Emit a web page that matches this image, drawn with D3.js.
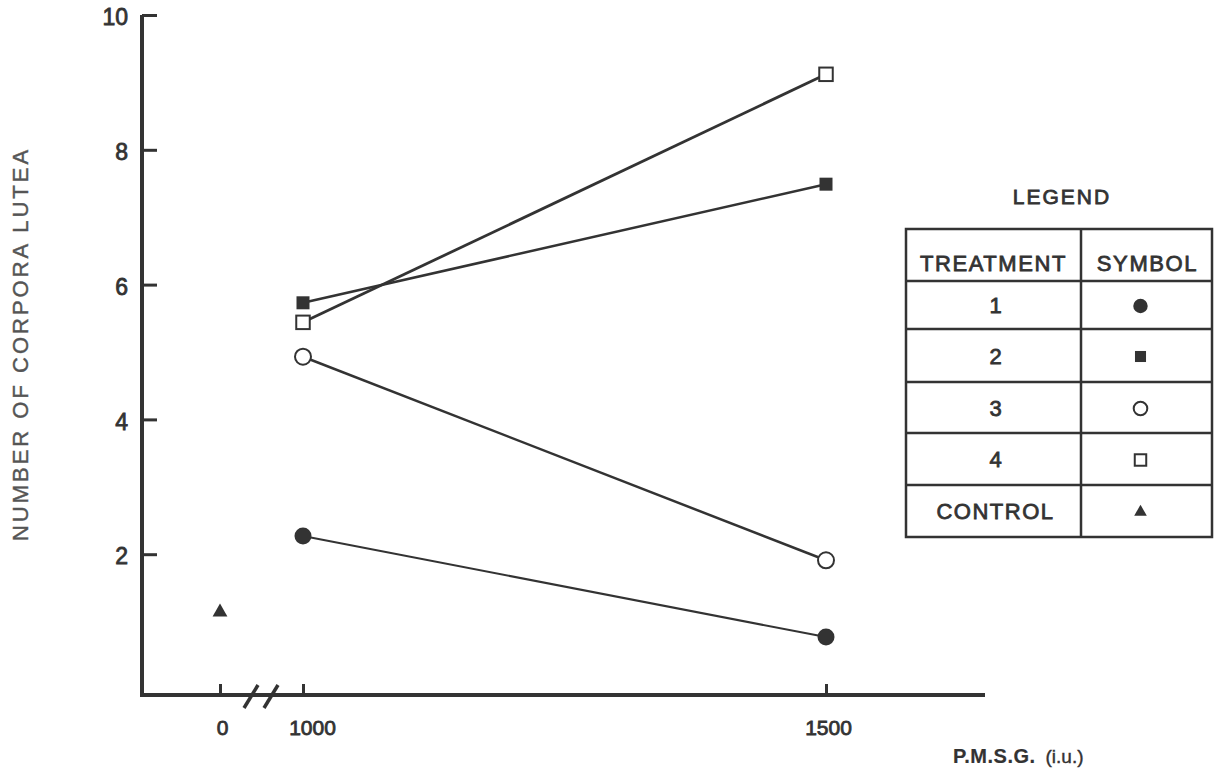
<!DOCTYPE html>
<html>
<head>
<meta charset="utf-8">
<script src="https://cdn.jsdelivr.net/npm/d3@7"></script>
<style>
  html, body { margin: 0; padding: 0; background: #fff; }
  svg { display: block; font-family: "Liberation Sans", Arial, Helvetica, sans-serif; }
</style>
</head>
<body>
<svg id="chart" width="1225" height="773"></svg>
<script>
// Corpora lutea counts by P.M.S.G. dose, one series per treatment
const doses = [1000, 1500];
const treatment1 = [2.27, 0.77];
const treatment2 = [5.73, 7.49];
const treatment3 = [4.93, 1.91];
const treatment4 = [5.44, 9.12];
const controlDose = [0];
const controlValue = [1.14];

const xTickValues = [0, 1000, 1500];
const yTickValues = [2, 4, 6, 8, 10];

const legendRows = ["1", "2", "3", "4", "CONTROL"];
const legendSymbols = ["circleFilled", "squareFilled", "circleOpen", "squareOpen", "triangle"];

const ink = "#333";
const svg = d3.select("#chart");

// slightly heavier type than a plain regular weight
function medium(sel, color, w = 0.8) {
  sel.attr("fill", color).attr("stroke", color).attr("stroke-width", w);
  return sel;
}

// Broken x axis: 0 sits before the break, 1000–1500 is linear after it
const x = d3.scaleLinear().domain([0, 1000, 1500]).range([220, 303, 826]);
const y = d3.scaleLinear().domain([0, 10]).range([689, 15]);

const axisX0 = 142, axisX1 = 985, axisY = 695;

// axis lines
svg.append("line").attr("x1", axisX0).attr("x2", axisX0).attr("y1", y(10)).attr("y2", axisY + 2)
  .attr("stroke", ink).attr("stroke-width", 4);
svg.append("line").attr("x1", axisX0 - 2).attr("x2", axisX1).attr("y1", axisY).attr("y2", axisY)
  .attr("stroke", ink).attr("stroke-width", 4);

// y ticks point inward (right)
const yAxis = d3.axisLeft(y).tickValues(yTickValues).tickSizeInner(-15).tickSizeOuter(0).tickPadding(14);
const gy = svg.append("g").attr("transform", `translate(${axisX0},0)`).call(yAxis);
gy.select(".domain").remove();
gy.selectAll(".tick line").attr("stroke", ink).attr("stroke-width", 3);
medium(gy.selectAll(".tick text"), ink).attr("font-size", 23).attr("dy", "0.42em");

// x ticks point inward (up)
const xAxis = d3.axisBottom(x).tickValues(xTickValues).tickFormat(d3.format("d"))
  .tickSizeInner(-11).tickSizeOuter(0).tickPadding(25);
const gx = svg.append("g").attr("transform", `translate(0,${axisY})`).call(xAxis);
gx.select(".domain").remove();
gx.selectAll(".tick line").attr("stroke", ink).attr("stroke-width", 3);
medium(gx.selectAll(".tick text"), ink).attr("font-size", 21)
  .attr("dx", d => d === 1000 ? 9 : 2);

// axis break marks
const breakX = [251, 271];
breakX.forEach(bx => {
  svg.append("line").attr("x1", bx - 7).attr("y1", axisY + 13).attr("x2", bx + 7).attr("y2", axisY - 10)
    .attr("stroke", ink).attr("stroke-width", 3.5);
});

// symbol drawing helper
function drawSymbol(g, kind, cx, cy, scale = 1) {
  if (kind === "circleFilled") {
    g.append("circle").attr("cx", cx).attr("cy", cy).attr("r", 8.5 * scale).attr("fill", ink);
  } else if (kind === "circleOpen") {
    g.append("circle").attr("cx", cx).attr("cy", cy).attr("r", 8 * scale)
      .attr("fill", "#fff").attr("stroke", ink).attr("stroke-width", 2);
  } else if (kind === "squareFilled") {
    const s = 13 * scale;
    g.append("rect").attr("x", cx - s / 2).attr("y", cy - s / 2).attr("width", s).attr("height", s).attr("fill", ink);
  } else if (kind === "squareOpen") {
    const s = 13.5 * scale;
    g.append("rect").attr("x", cx - s / 2).attr("y", cy - s / 2).attr("width", s).attr("height", s)
      .attr("fill", "#fff").attr("stroke", ink).attr("stroke-width", 2);
  } else if (kind === "triangle") {
    g.append("path").attr("d", d3.symbol(d3.symbolTriangle, 95 * scale * scale)())
      .attr("transform", `translate(${cx},${cy})`).attr("fill", ink);
  }
}

const series = [
  { values: treatment1, kind: "circleFilled", width: 2 },
  { values: treatment2, kind: "squareFilled", width: 2.5 },
  { values: treatment3, kind: "circleOpen", width: 2.5 },
  { values: treatment4, kind: "squareOpen", width: 2.8 }
];

const line = d3.line().x(d => x(d[0])).y(d => y(d[1]));
const plot = svg.append("g");
series.forEach(s => {
  const pts = doses.map((d, i) => [d, s.values[i]]);
  plot.append("path").attr("d", line(pts)).attr("fill", "none").attr("stroke", ink).attr("stroke-width", s.width);
});
series.forEach(s => {
  doses.forEach((d, i) => drawSymbol(plot, s.kind, x(d), y(s.values[i])));
});
controlDose.forEach((d, i) => drawSymbol(plot, "triangle", x(d), y(controlValue[i])));

// axis titles
medium(svg.append("text"), "#555", 0.4)
  .attr("transform", `translate(28,${344}) rotate(-90)`)
  .attr("text-anchor", "middle").attr("font-size", 22)
  .attr("letter-spacing", 3)
  .text("NUMBER OF CORPORA LUTEA");

const xt = svg.append("text").attr("x", 953).attr("y", 763);
medium(xt.append("tspan"), ink, 0.2).attr("font-size", 20).attr("font-weight", "bold")
  .attr("letter-spacing", 0.5).text("P.M.S.G.");
medium(xt.append("tspan"), ink, 0.4).attr("dx", 10).attr("font-size", 19).text("(i.u.)");

// legend table
const tbl = { left: 906, right: 1212, mid: 1081, top: 229 };
const rowBottoms = [281, 329, 382, 433, 485, 537];
const lg = svg.append("g");
medium(lg.append("text"), ink).attr("x", (tbl.left + tbl.right) / 2 + 3).attr("y", 204)
  .attr("text-anchor", "middle").attr("font-size", 21).attr("letter-spacing", 2)
  .text("LEGEND");
lg.append("rect").attr("x", tbl.left).attr("y", tbl.top)
  .attr("width", tbl.right - tbl.left).attr("height", rowBottoms[5] - tbl.top)
  .attr("fill", "none").attr("stroke", ink).attr("stroke-width", 2.5);
lg.append("line").attr("x1", tbl.mid).attr("x2", tbl.mid).attr("y1", tbl.top).attr("y2", rowBottoms[5])
  .attr("stroke", ink).attr("stroke-width", 2.5);
rowBottoms.slice(0, 5).forEach(yy => {
  lg.append("line").attr("x1", tbl.left).attr("x2", tbl.right).attr("y1", yy).attr("y2", yy)
    .attr("stroke", ink).attr("stroke-width", 2.5);
});
medium(lg.append("text"), ink).attr("x", (tbl.left + tbl.mid) / 2).attr("y", 271)
  .attr("text-anchor", "middle").attr("font-size", 22).attr("letter-spacing", 1.6)
  .text("TREATMENT");
medium(lg.append("text"), ink).attr("x", (tbl.mid + tbl.right) / 2 + 1).attr("y", 271)
  .attr("text-anchor", "middle").attr("font-size", 22).attr("letter-spacing", 1.6)
  .text("SYMBOL");
legendRows.forEach((label, i) => {
  const top = rowBottoms[i], bottom = rowBottoms[i + 1];
  const cy = (top + bottom) / 2;
  medium(lg.append("text"), ink).attr("x", (tbl.left + tbl.mid) / 2 + 2).attr("y", cy + 8)
    .attr("text-anchor", "middle").attr("font-size", 22)
    .attr("letter-spacing", i < 4 ? 0 : 1.5)
    .text(label);
  drawSymbol(lg, legendSymbols[i], (tbl.mid + tbl.right) / 2 - 6, cy + 1, 0.85);
});
</script>
</body>
</html>
